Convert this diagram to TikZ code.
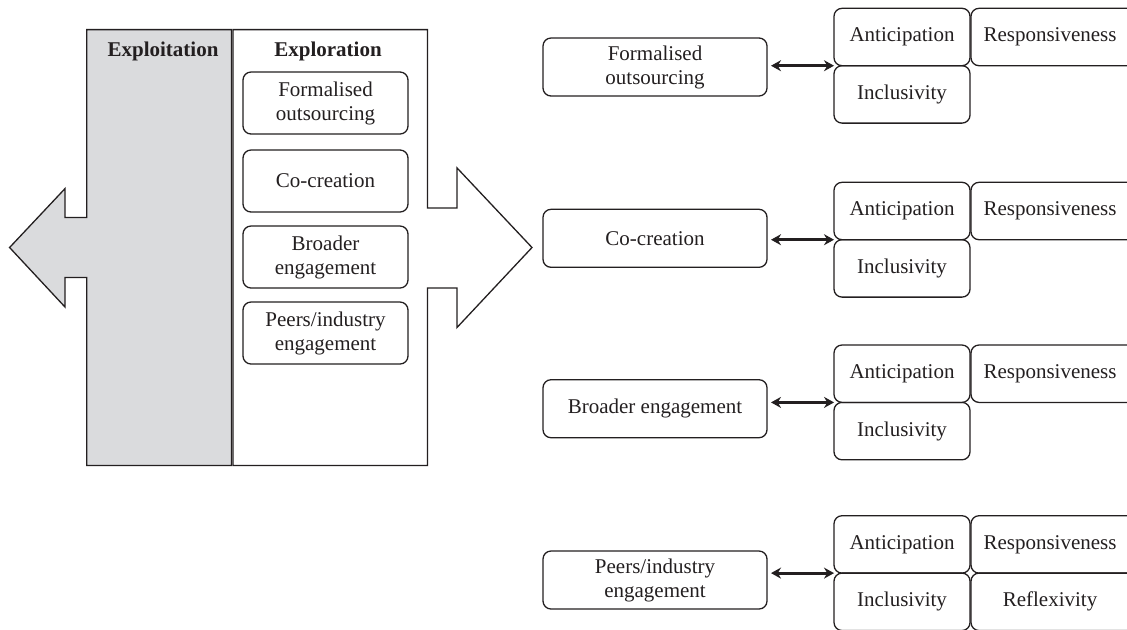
\documentclass[tikz,border=0pt]{standalone}
\usepackage{fontspec}
\setmainfont{Liberation Serif}
\usepackage{xcolor}
\usepackage{tikz}
\usetikzlibrary{arrows.meta,positioning}

\definecolor{exploitgray}{RGB}{218,219,221}
\definecolor{linegray}{RGB}{35,31,32}

\tikzset{
	box/.style={draw=linegray, line width=0.65pt, rounded corners=4pt, align=center, inner sep=0pt, outer sep=0pt},
	optbox/.style={box, minimum width=82.5pt, minimum height=31pt},
	actbox/.style={box, minimum width=112pt, minimum height=29pt},
	cellbox/.style={box, minimum width=68pt, minimum height=28.7pt},
	widecell/.style={box, minimum width=82pt, minimum height=28.7pt},
	link/.style={line width=1.5pt, draw=linegray, {Stealth[length=5pt,width=5.5pt]}-{Stealth[length=5pt,width=5.5pt]}, shorten <=2pt},
}

\begin{document}
\begin{tikzpicture}[x=0.5pt, y=-0.5pt, font=\fontsize{10.5}{12}\selectfont, text=linegray]
		\useasboundingbox (0,0) rectangle (1127,629);
		\begin{scope}
		\clip (0,0) rectangle (1127,629);
		
		% the two big arrows
		\draw[linegray, line width=0.65pt, fill=exploitgray] (231.4,29.6) -- (86.8,29.6) -- (86.8,217.5) -- (65,217.5) -- (65,188.6) -- (9.6,247.5) -- (65,307) -- (65,277.5) -- (86.8,277.5) -- (86.8,465.4) -- (231.4,465.4) -- cycle;
		\draw[linegray, line width=0.65pt, fill=white] (232.9,29.6) -- (427.5,29.6) -- (427.5,207.9) -- (457,207.9) -- (457,167.9) -- (532,247.5) -- (457,327.5) -- (457,287.9) -- (427.5,287.9) -- (427.5,465.4) -- (232.9,465.4) -- cycle;
		
		\node[font=\fontsize{10.5}{12}\selectfont\bfseries, anchor=base] (exploit) at (163,56) {Exploitation};
		\node[font=\fontsize{10.5}{12}\selectfont\bfseries, anchor=base] (explore) at (328,56) {Exploration};
		
		\foreach \i/\y/\txt in {1/103/{Formalised\\outsourcing}, 2/181/{Co-creation}, 3/257/{Broader\\engagement}, 4/333/{Peers/industry\\engagement}}{
			\node[optbox] (opt\i) at (325.5,\y) {\txt};
		}
		
		% right side: one row per activity
		\foreach \i/\ly/\gy/\txt in {1/67/8.3/{Formalised\\outsourcing}, 2/238.3/182.3/{Co-creation}, 3/408.7/345/{Broader engagement}, 4/580/515.7/{Peers/industry\\engagement}}{
			\node[actbox] (act\i) at (655,\ly) {\txt};
			\node[cellbox, anchor=north west] (ant\i) at (834,\gy) {Anticipation};
			\node[cellbox, below=0pt of ant\i] (inc\i) {Inclusivity};
			\node[widecell, right=0.5pt of ant\i] (res\i) {\hspace*{-3pt}Responsiveness};
			\draw[link] (act\i.east |- ant\i.south west) -- (ant\i.south west);
		}
		\node[widecell, below=0pt of res4] (ref4) {\hspace*{-3pt}Reflexivity};
		\end{scope}
	\end{tikzpicture}
\end{document}
